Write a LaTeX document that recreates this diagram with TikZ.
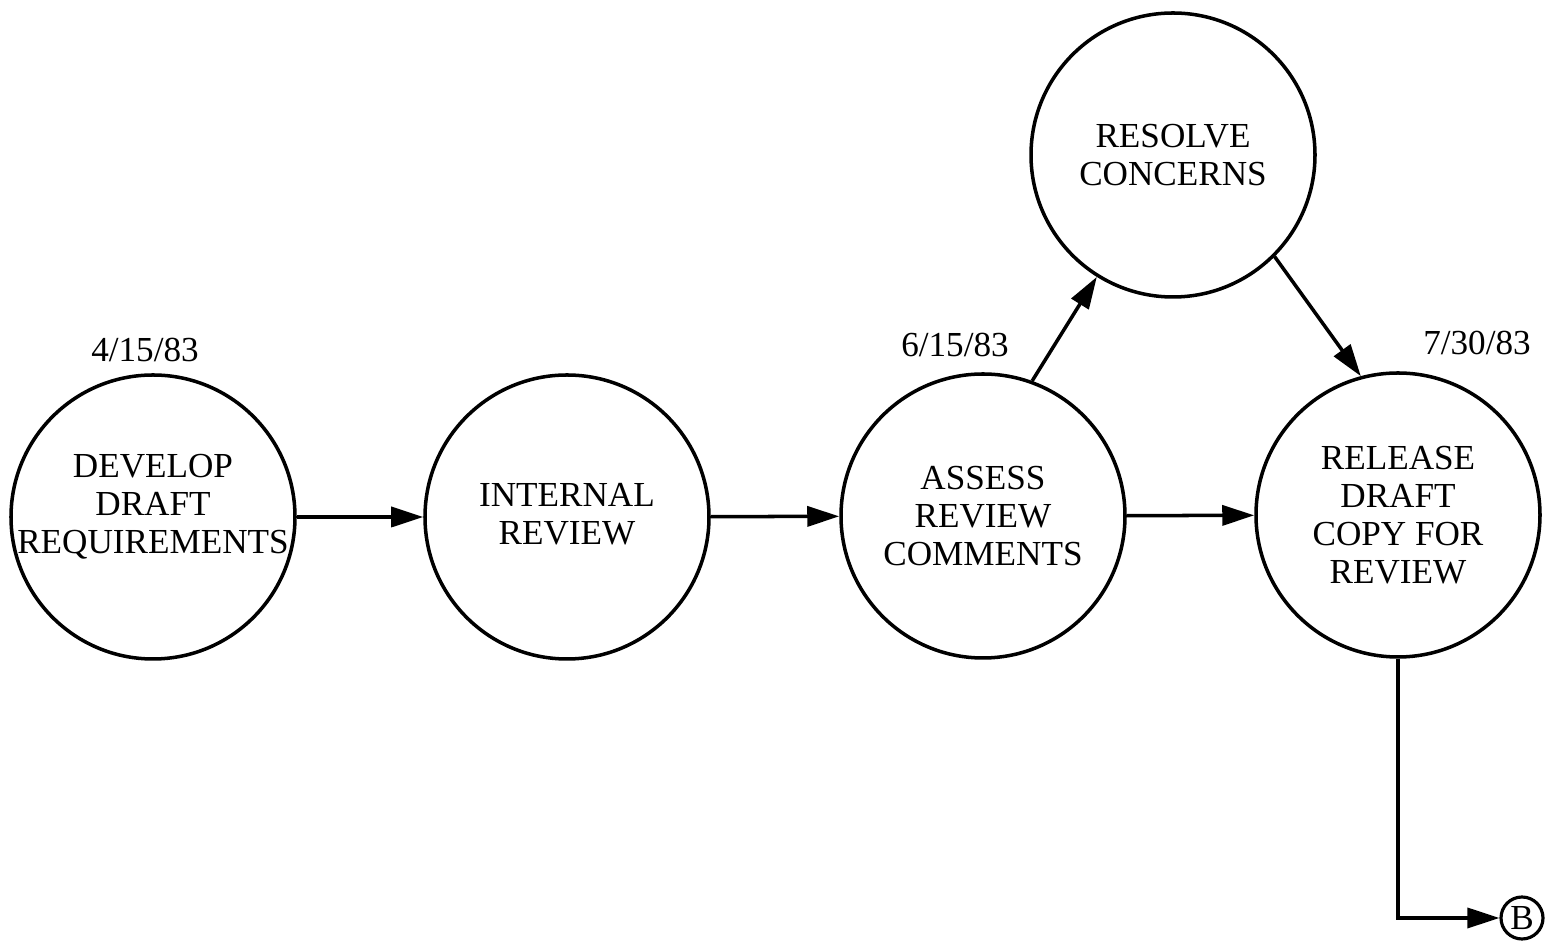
\documentclass[tikz,border=0pt]{standalone}
\usepackage{fontspec}
\setmainfont{Liberation Serif}
\usetikzlibrary{arrows.meta}
\begin{document}
\begin{tikzpicture}[
        every node/.style={font=\fontsize{10}{10.8}\selectfont},
        every label/.style={align=center},
        activity/.style={circle, draw=black, line width=1pt, minimum size=2.84cm, inner sep=0pt},
        offpage/.style={circle, draw=black, line width=0.9pt, minimum size=0.42cm, inner sep=0pt},
        arrow/.style={-{Triangle[length=0.32cm,width=0.2cm]}, line width=1pt, draw=black}
        ]
        \useasboundingbox (0,0) rectangle (15.64,-9.48);

        % Main row of activities
        \node[activity, label={[yshift=0.1cm]center:DEVELOP\\DRAFT\\REQUIREMENTS}] (develop) at (1.53,-5.17) {};
        \node[activity, label={[yshift=0.03cm]center:INTERNAL\\REVIEW}] (internal) at (5.67,-5.17) {};
        \node[activity, label={center:ASSESS\\REVIEW\\COMMENTS}] (assess) at (9.83,-5.16) {};
        \node[activity, label={center:RELEASE\\DRAFT\\COPY FOR\\REVIEW}] (release) at (13.98,-5.15) {};

        % Side loop
        \node[activity, label={center:RESOLVE\\CONCERNS}] (resolve) at (11.73,-1.55) {};

        % Off-page connector
        \node[offpage] (b) at (15.22,-9.18) {B};

        % Dates
        \node (date1) at (1.45,-3.50) {4/15/83};
        \node (date2) at (9.55,-3.45) {6/15/83};
        \node (date3) at (14.77,-3.43) {7/30/83};

        % Connections
        \draw[arrow] (develop) -- (internal);
        \draw[arrow] (internal) -- (assess);
        \draw[arrow] (assess) -- (release);
        \draw[arrow] (assess.70) -- (resolve.238);
        \draw[arrow] (resolve.-45) -- (release.105);
        \draw[arrow] (release.south) |- (b);

    \end{tikzpicture}
\end{document}
